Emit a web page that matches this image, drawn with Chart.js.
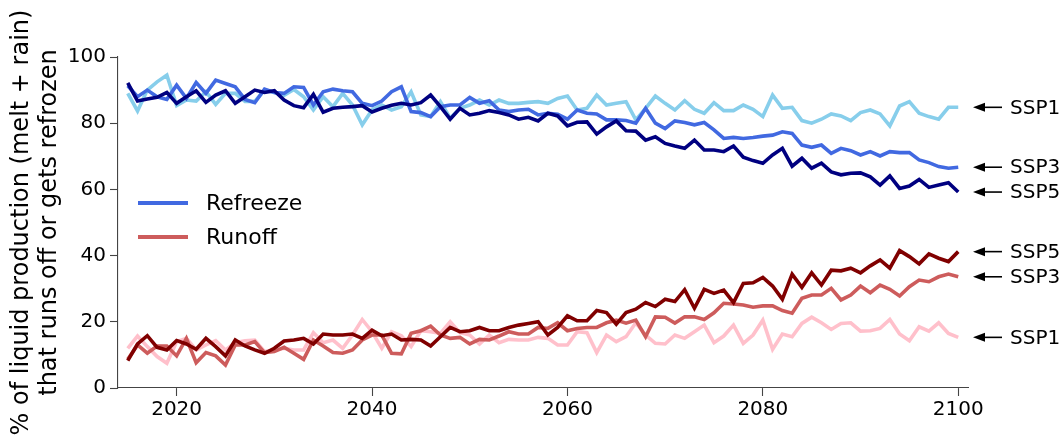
<!DOCTYPE html>
<html><head><meta charset="utf-8">
<script src="https://cdn.jsdelivr.net/npm/chart.js@4/dist/chart.umd.min.js"></script>
<style>html,body{margin:0;padding:0;background:#fff;}#wrap{width:1062px;height:439px;position:relative;}</style>
</head><body><div id="wrap"><canvas id="c" width="1062" height="439"></canvas></div>
<script>
const years = Array.from({length: 86}, (_, i) => 2015 + i);
const xTicks = [2020, 2040, 2060, 2080, 2100];
const yTicks = [0, 20, 40, 60, 80, 100];

const refreezeSSP1 = [89, 83.7, 90, 92.5, 94.5,
  85.3, 87, 86.7, 89.5, 85.7, 89, 89, 86.6, 86.6, 90,
  89.3, 88.4, 90.2, 88, 84, 88, 85, 89, 85.5, 79.5,
  84, 85.5, 84, 85, 89.5, 82.5, 82, 86.5, 81.5, 84.5,
  85.5, 87, 85.5, 87, 86, 86, 86.3, 86.5, 86, 87.5,
  88.2, 84, 84.5, 88.5, 85.5, 86, 86.5, 81, 84.5, 88.2,
  86, 84, 86.8, 84.2, 83, 86.2, 83.8, 83.8, 85.5, 84.2,
  82, 88.5, 84.5, 84.8, 80.8, 80, 81.2, 82.8, 82.2, 80.8,
  83.2, 84, 82.8, 79.2, 85.2, 86.5, 83, 82, 81.2, 84.8,
  84.8];
const refreezeSSP3 = [91.3, 88, 90, 88, 87.2,
  91.5, 87.5, 92.3, 89, 93, 92, 91, 87.2, 86.2, 90.3,
  89.3, 89, 91, 90.8, 85.5, 89.5, 90.3, 89.8, 89.5, 86,
  85.3, 86.7, 89.5, 91, 83.5, 83.2, 82, 85, 85.5, 85.5,
  87.8, 86, 86.8, 84, 83.5, 84, 84.2, 82.5, 83, 82.7,
  81.2, 84, 83, 82.8, 81, 81, 80.8, 80, 84.5, 80,
  78.4, 80.7, 80.2, 79.5, 80.2, 78, 75.4, 75.7, 75.4, 75.7,
  76.1, 76.4, 77.4, 76.9, 73.4, 72.7, 73.4, 70.9, 72.4, 71.7,
  70.4, 71.4, 70.1, 71.4, 71.1, 71.1, 68.9, 68.1, 66.9, 66.4,
  66.7];
const refreezeSSP5 = [92.2, 86.7, 87.3, 87.8, 89.3,
  86, 88, 89.8, 86.3, 88.5, 89.8, 86, 88, 90, 89.3,
  89.8, 87, 85.3, 84.7, 88.7, 83.3, 84.5, 84.8, 85, 85.3,
  83.4, 84.5, 85.4, 86, 85.5, 86.2, 88.5, 85, 81.2, 84.5,
  82.5, 83, 83.8, 83.2, 82.5, 81.2, 81.8, 80.7, 83, 82.2,
  79.2, 80.3, 80.4, 76.7, 78.9, 80.7, 77.7, 77.6, 74.9, 75.9,
  73.9, 73.1, 72.4, 74.9, 71.9, 71.9, 71.4, 73.1, 69.7, 68.7,
  67.9, 70.4, 72.4, 67, 69.4, 66.4, 67.9, 65.3, 64.4, 64.9,
  65, 63.8, 61.3, 64.1, 60.3, 61, 63, 60.6, 61.3, 62,
  59.2];
const runoffSSP1 = [12, 15.7, 12.5, 9.5, 7.45,
  14, 15, 11.5, 13, 14.3, 11.5, 13.7, 14.3, 14.5, 11,
  11.5, 12, 11.5, 11.5, 16.7, 13.7, 14.5, 12, 16, 20.7,
  17, 12, 17, 15.8, 12.5, 17.3, 17, 16.5, 20, 16.7,
  16, 13.3, 16, 13.7, 14.7, 14.5, 14.5, 15.3, 15, 13,
  13, 17, 16.7, 10.7, 16, 14, 15.5, 19.7, 16, 13.5,
  13.3, 16, 15, 17, 19, 13.7, 15.7, 19, 13.5, 16,
  20.5, 11.7, 16.3, 15.5, 19.5, 21.4, 19.7, 17.7, 19.5, 19.7,
  17.2, 17.3, 18, 20.7, 16.3, 14.3, 18.5, 17.2, 19.7, 16.5,
  15.3];
const runoffSSP3 = [8.66, 13, 10.5, 12.7, 12.7,
  9.7, 15, 7.65, 10.7, 9.7, 6.95, 13, 13, 14, 10.7,
  11, 12.3, 10.5, 8.66, 14.5, 12.7, 10.7, 10.5, 11.5, 14.5,
  16, 16, 10.5, 10.3, 16.5, 17.3, 18.7, 16, 15, 15.3,
  13.3, 14.7, 14.5, 15.7, 17, 16.3, 16.3, 18.3, 18, 19.7,
  17.3, 18, 18.3, 18.3, 19.7, 20.5, 19.6, 20.5, 15.5, 21.5,
  21.4, 19.6, 21.5, 21.5, 20.7, 22.7, 25.6, 25.4, 25.1, 24.4,
  24.8, 24.8, 23.4, 22.6, 27.1, 28.1, 28.1, 30.1, 26.6, 28.1,
  30.8, 28.8, 31.1, 29.8, 27.8, 30.6, 32.6, 32.1, 33.6, 34.4,
  33.6];
const runoffSSP5 = [8.26, 13.3, 15.8, 12.3, 11.5,
  14.3, 13.3, 11.7, 15, 12.5, 9.7, 14.5, 12.7, 11.5, 10.5,
  12, 14.2, 14.5, 15, 13.3, 16.3, 16, 16, 16.3, 15,
  17.5, 15.8, 16.3, 14.5, 14.7, 14.5, 12.7, 15.5, 18.3, 17,
  17.3, 18.3, 17.3, 17.3, 18.3, 19, 19.5, 20, 16, 18.3,
  21.8, 20.3, 20.3, 23.4, 22.8, 19.3, 22.8, 23.8, 25.8, 24.6,
  26.8, 26.1, 29.7, 24.1, 29.8, 28.6, 29.6, 25.8, 31.6, 31.8,
  33.4, 30.8, 26.8, 34.4, 30.4, 34.8, 31.1, 35.6, 35.4, 36.2,
  34.8, 36.9, 38.7, 36.2, 41.5, 39.7, 37.5, 40.5, 39.2, 38.2,
  41.2];

const yTitleLines = ['% of liquid production (melt + rain)', 'that runs off or gets refrozen'];
const legendItems = [['Refreeze', '#4169E1'], ['Runoff', '#CD5C5C']];

const seriesDefs = [
  {name: 'SSP5', data: refreezeSSP5, color: '#000080'},
  {name: 'SSP5', data: runoffSSP5, color: '#800000'},
  {name: 'SSP3', data: refreezeSSP3, color: '#4169E1'},
  {name: 'SSP3', data: runoffSSP3, color: '#CD5C5C'},
  {name: 'SSP1', data: refreezeSSP1, color: '#87CEEB'},
  {name: 'SSP1', data: runoffSSP1, color: '#FFC0CB'},
];

const FONT = "'DejaVu Sans', 'Liberation Sans', sans-serif";
Chart.defaults.font.family = FONT;
Chart.defaults.color = '#000';

const datasets = seriesDefs.map(s => ({
  label: s.name,
  data: years.map((yr, i) => ({x: yr, y: s.data[i]})),
  borderColor: s.color,
  backgroundColor: s.color,
  borderWidth: 3.6,
  pointRadius: 0,
  tension: 0,
  fill: false,
  borderJoinStyle: 'miter',
  borderCapStyle: 'butt'
}));

const decor = {
  id: 'decor',
  afterDraw(chart) {
    const ctx = chart.ctx;
    const ys = chart.scales.y;
    const area = chart.chartArea;
    ctx.save();
    // y-axis title
    ctx.fillStyle = '#000';
    ctx.font = '24px ' + FONT;
    ctx.textAlign = 'center';
    ctx.textBaseline = 'alphabetic';
    const cy = (area.top + area.bottom) / 2;
    const xs = [28, 56];
    yTitleLines.forEach((t, i) => {
      ctx.save();
      ctx.translate(xs[i], cy);
      ctx.rotate(-Math.PI / 2);
      ctx.fillText(t, 0, 0);
      ctx.restore();
    });
    // legend
    ctx.font = '22px ' + FONT;
    ctx.textAlign = 'left';
    ctx.textBaseline = 'middle';
    legendItems.forEach((it, i) => {
      const y = 203 + i * 34;
      ctx.strokeStyle = it[1];
      ctx.lineWidth = 4;
      ctx.beginPath();
      ctx.moveTo(138, y);
      ctx.lineTo(188, y);
      ctx.stroke();
      ctx.fillStyle = '#000';
      ctx.fillText(it[0], 206, y + 1);
    });
    // end annotations
    ctx.font = '20px ' + FONT;
    seriesDefs.forEach(s => {
      const y = ys.getPixelForValue(s.data[s.data.length - 1]);
      ctx.strokeStyle = '#000';
      ctx.fillStyle = '#000';
      ctx.lineWidth = 1.6;
      ctx.beginPath();
      ctx.moveTo(1002, y);
      ctx.lineTo(982, y);
      ctx.stroke();
      ctx.beginPath();
      ctx.moveTo(973, y);
      ctx.lineTo(985, y - 4.5);
      ctx.lineTo(985, y + 4.5);
      ctx.closePath();
      ctx.fill();
      ctx.fillText(s.name, 1010, y + 1);
    });
    ctx.restore();
  }
};

new Chart(document.getElementById('c'), {
  type: 'line',
  data: {datasets},
  options: {
    responsive: false,
    animation: false,
    devicePixelRatio: 1,
    layout: {padding: {left: 0, right: 94, top: 57, bottom: 0}},
    plugins: {legend: {display: false}, tooltip: {enabled: false}, title: {display: false}},
    scales: {
      x: {
        type: 'linear', min: 2014, max: 2101,
        afterFit(s) { s.height = 51; },
        afterBuildTicks(s) { s.ticks = xTicks.map(v => ({value: v})); },
        grid: {display: true, drawOnChartArea: false, drawTicks: true, tickLength: 8, tickColor: '#444', tickWidth: 1.1},
        border: {display: true, color: '#444', width: 1.1},
        ticks: {font: {size: 20}, color: '#000', padding: 2, maxRotation: 0, includeBounds: false, callback: v => String(v)}
      },
      y: {
        min: 0, max: 100,
        afterFit(s) { s.width = 118; },
        afterBuildTicks(s) { s.ticks = yTicks.map(v => ({value: v})); },
        grid: {display: true, drawOnChartArea: false, drawTicks: true, tickLength: 8, tickColor: '#444', tickWidth: 1.1},
        border: {display: true, color: '#444', width: 1.1},
        ticks: {font: {size: 20}, color: '#000', padding: 4, callback: v => String(v)}
      }
    }
  },
  plugins: [decor]
});
</script></body></html>
